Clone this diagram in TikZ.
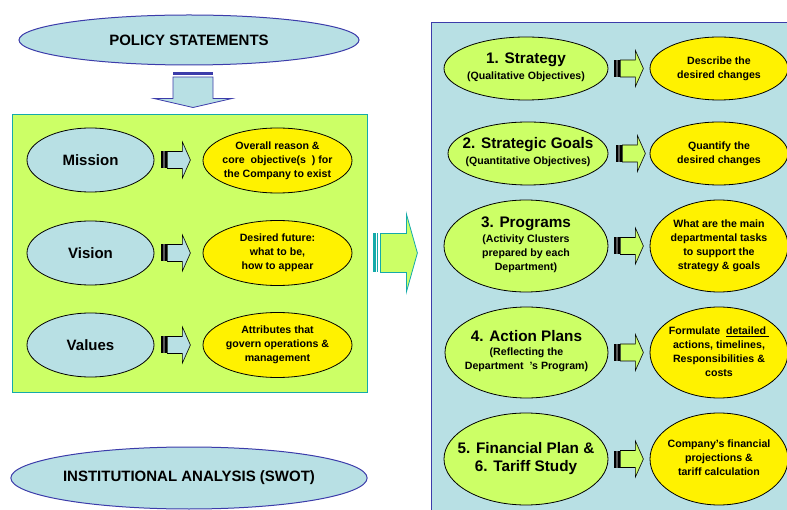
\documentclass[tikz,border=0pt]{standalone}
\usepackage{fontspec}
\setmainfont{Liberation Sans}
\usetikzlibrary{shapes.geometric}

\definecolor{paleblue}{RGB}{184,224,228}
\definecolor{limegreen}{RGB}{204,255,102}
\definecolor{panelblue}{RGB}{60,60,170}
\definecolor{tealline}{RGB}{20,170,170}
\definecolor{stripegray}{RGB}{90,90,90}

\newcommand{\ovaltext}[1]{\makebox[0pt]{\begin{tabular}{@{}c@{}}#1\end{tabular}}}
\newcommand{\bigline}[1]{{\fontsize{15.3}{17}\selectfont #1}}

\tikzset{
	blueoval/.style 2 args={ellipse,draw,fill=paleblue,line width=.8pt,inner sep=0pt,minimum width=#1,minimum height=#2},
	greenoval/.style 2 args={ellipse,draw,fill=limegreen,line width=.8pt,inner sep=0pt,minimum width=#1,minimum height=#2},
	yellowoval/.style 2 args={ellipse,draw,fill=yellow,line width=.8pt,inner sep=0pt,minimum width=#1,minimum height=#2},
	headtext/.style={font=\bfseries\fontsize{15}{17}\selectfont},
	smalltext/.style={font=\bfseries\fontsize{10.6}{14}\selectfont},
	stripearrow/.pic={
		\fill[black] (0,-8.5) rectangle (1.5,8.5);
		\fill[stripegray] (1.5,-8.5) rectangle (4,8.5);
		\fill[black] (4,-8.5) rectangle (6,8.5);
		\draw[pic actions] (6,-8.5) -- (21,-8.5) -- (21,-18) -- (29,0) -- (21,18) -- (21,8.5) -- (6,8.5) -- cycle;
	}
}

\begin{document}
\begin{tikzpicture}[x=1pt,y=-1pt]
	\useasboundingbox (0,0) rectangle (787,510);

	\node[draw=panelblue,fill=paleblue,line width=1pt,minimum width=369pt,minimum height=497pt,inner sep=0pt] (plan) at (615.5,271.5) {};
	\node[draw=tealline,fill=limegreen,line width=.8pt,minimum width=355pt,minimum height=278pt,inner sep=0pt] (mvv) at (189.5,253) {};

	\node[blueoval={340pt}{50pt},draw=panelblue,line width=1pt,headtext] (policy) at (189,40) {POLICY STATEMENTS};
	\node[blueoval={340pt}{62pt},draw=panelblue,line width=1pt,headtext] (swot) at (189,478) {INSTITUTIONAL ANALYSIS (SWOT)};

	\fill[panelblue] (policy.south) ++(-16,7) rectangle ++(40,2.5);
	\draw[panelblue,fill=paleblue,line width=.8pt] (policy.south) ++(-16,11.5) -- ++(40,0) -- ++(0,21.5) -- ++(19,0) -- ++(-39,9) -- ++(-39,-9) -- ++(19,0) -- cycle;

	\node[blueoval={127pt}{64pt},headtext] (mission) at (90.5,160) {Mission};
	\node[blueoval={127pt}{64pt},headtext] (vision) at (90.5,253) {Vision};
	\node[blueoval={127pt}{64pt},headtext] (values) at (90.5,345) {Values};

	\node[yellowoval={149pt}{65pt},smalltext] (reason) at (277.5,160.5) {\ovaltext{Overall reason \&\\core\ \ objective(s\ \ ) for\\the Company to exist}};
	\node[yellowoval={149pt}{65pt},smalltext] (future) at (277.5,253) {\ovaltext{Desired future:\\what to be,\\how to appear}};
	\node[yellowoval={149pt}{65pt},smalltext] (attrib) at (277.5,345) {\ovaltext{Attributes that\\govern operations \&\\management}};

	\pic[draw=black,fill=paleblue,line width=.6pt] at ([xshift=7pt]mission.east) {stripearrow};
	\pic[draw=black,fill=paleblue,line width=.6pt] at ([xshift=7pt]vision.east) {stripearrow};
	\pic[draw=black,fill=paleblue,line width=.6pt] at ([xshift=7pt]values.east) {stripearrow};

	\fill[tealline] (mvv.east) ++(6,-19.5) rectangle ++(2.5,39);
	\fill[tealline] (mvv.east) ++(9.5,-19.5) rectangle ++(1.5,39);
	\draw[tealline,fill=limegreen,line width=.8pt] (mvv.east) ++(13,-19.5) -- ++(26,0) -- ++(0,-19.5) -- ++(11,39) -- ++(-11,39) -- ++(0,-19.5) -- ++(-26,0) -- cycle;

	\node[greenoval={164pt}{63pt},smalltext] (strategy) at (526,68.5) {\ovaltext{\bigline{1. Strategy}\\[2pt](Qualitative Objectives)}};
	\node[greenoval={160pt}{63pt},smalltext] (goals) at (528,153.5) {\ovaltext{\bigline{2. Strategic Goals}\\[2pt](Quantitative Objectives)}};
	\node[greenoval={164pt}{92pt},smalltext] (programs) at (526,246) {\ovaltext{\bigline{3. Programs}\\[1pt](Activity Clusters\\prepared by each\\Department)}};
	\node[greenoval={163pt}{91pt},smalltext] (action) at (526.5,352.5) {\ovaltext{\bigline{4. Action Plans}\\(Reflecting the\\Department\ \ 's Program)}};
	\node[greenoval={164pt}{92pt},smalltext] (finance) at (526,459) {\ovaltext{\bigline{5. Financial Plan \&}\\[2pt]\bigline{6. Tariff Study}}};

	\node[yellowoval={138pt}{63pt},smalltext] (describe) at (719,68.5) {\ovaltext{Describe the\\desired changes}};
	\node[yellowoval={138pt}{63pt},smalltext] (quantify) at (719,153.5) {\ovaltext{Quantify the\\desired changes}};
	\node[yellowoval={138pt}{92pt},smalltext] (tasks) at (719,246) {\ovaltext{What are the main\\departmental tasks\\to support the\\strategy \& goals}};
	\node[yellowoval={138pt}{91pt},smalltext] (formulate) at (719,352.5) {\ovaltext{Formulate\ \ \underline{detailed\ }\\actions, timelines,\\Responsibilities \&\\costs}};
	\node[yellowoval={138pt}{92pt},smalltext] (projection) at (719,459) {\ovaltext{Company's financial\\projections \&\\tariff calculation}};

	\pic[draw=black,fill=limegreen,line width=.6pt] at ([xshift=6pt]strategy.east) {stripearrow};
	\pic[draw=black,fill=limegreen,line width=.6pt] at ([xshift=8pt]goals.east) {stripearrow};
	\pic[draw=black,fill=limegreen,line width=.6pt] at ([xshift=6pt]programs.east) {stripearrow};
	\pic[draw=black,fill=limegreen,line width=.6pt] at ([xshift=6pt]action.east) {stripearrow};
	\pic[draw=black,fill=limegreen,line width=.6pt] at ([xshift=6pt]finance.east) {stripearrow};
\end{tikzpicture}
\end{document}
